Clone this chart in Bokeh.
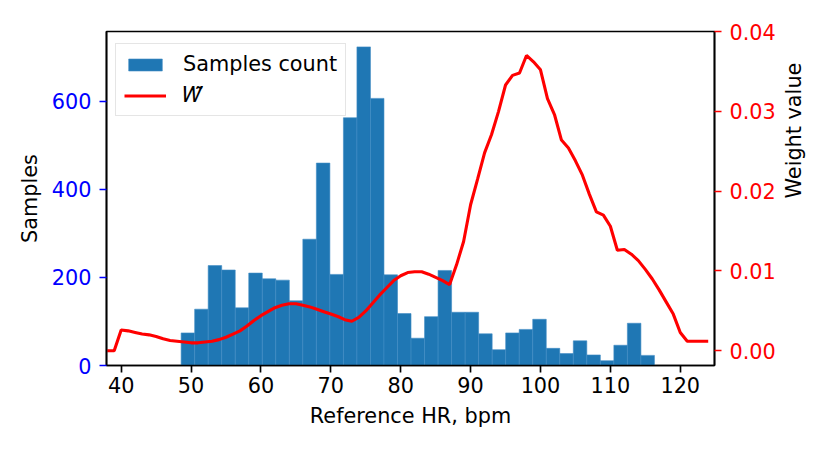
import math
import numpy as np
from bokeh.plotting import figure
from bokeh.models import (Range1d, LinearAxis, FixedTicker, PrintfTickFormatter,
                          Legend, LegendItem, ColumnDataSource)
from bokeh.embed import file_html
from bokeh.resources import INLINE

# ---- data ----
hist_start = 48.58
bin_width = 1.935
counts = [74, 128, 227, 217, 131, 210, 197, 194, 147, 287, 460, 207, 563, 724, 607,
          206, 118, 62, 111, 216, 121, 121, 72, 36, 74, 82, 105, 39, 27, 56, 24, 11,
          46, 96, 23]

hr_grid = list(range(38, 125))
weights = [0.0000, 0.0000, 0.0026, 0.0025, 0.0023, 0.0021, 0.0020, 0.0018, 0.0015, 0.0013,
           0.0012, 0.0011, 0.0010, 0.0010, 0.0011, 0.0012, 0.0014, 0.0017, 0.0021, 0.0025,
           0.0031, 0.0038, 0.0044, 0.0049, 0.0054, 0.0057, 0.0059, 0.0059, 0.0057, 0.0055,
           0.0052, 0.0049, 0.0046, 0.0043, 0.0039, 0.0037, 0.0042, 0.0050, 0.0060, 0.0070,
           0.0079, 0.0088, 0.0094, 0.0098, 0.0099, 0.0099, 0.0096, 0.0092, 0.0088, 0.0083,
           0.0108, 0.0137, 0.0183, 0.0215, 0.0248, 0.0271, 0.0300, 0.0333, 0.0345, 0.0348,
           0.0370, 0.0362, 0.0352, 0.0316, 0.0296, 0.0264, 0.0254, 0.0238, 0.0220, 0.0196,
           0.0174, 0.0170, 0.0156, 0.0126, 0.0127, 0.0121, 0.0113, 0.0102, 0.0090, 0.0076,
           0.0061, 0.0046, 0.0023, 0.0012, 0.0012, 0.0012, 0.0012]

x_ticks = [40, 50, 60, 70, 80, 90, 100, 110, 120]
left_ticks = [0, 200, 400, 600]
right_ticks = [0.00, 0.01, 0.02, 0.03, 0.04]

FONT = "DejaVu Sans"
FS = "20.8px"
LW = 1.67

edges = hist_start + bin_width * np.arange(len(counts) + 1)
bars_src = ColumnDataSource(dict(left=edges[:-1], right=edges[1:],
                                 top=counts, bottom=[0] * len(counts)))
line_src = ColumnDataSource(dict(x=hr_grid, y=weights))

p = figure(width=820, height=445, output_backend="svg", toolbar_location=None,
           x_range=Range1d(37.9, 124.9), y_range=Range1d(0, 759),
           min_border_left=106, min_border_right=103, min_border_top=31, min_border_bottom=80)
p.extra_y_ranges = {"w": Range1d(-0.00184, 0.0400)}

bars = p.quad(left="left", right="right", top="top", bottom="bottom", source=bars_src,
              fill_color="#1f77b4", line_color="#3f8cc4", line_width=0.6)
line = p.line("x", "y", source=line_src, y_range_name="w", line_color="#ff0000", line_width=3.1)

p.xgrid.grid_line_color = None
p.ygrid.grid_line_color = None
p.outline_line_color = "black"
p.outline_line_width = LW
p.background_fill_color = "white"
p.border_fill_color = "white"

def style_axis(ax, color, standoff, label_standoff):
    ax.axis_label_text_font = FONT
    ax.axis_label_text_font_size = FS
    ax.axis_label_text_font_style = "normal"
    ax.axis_label_text_color = "black"
    ax.axis_label_standoff = label_standoff
    ax.major_label_text_font = FONT
    ax.major_label_text_font_size = FS
    ax.major_label_text_color = color
    ax.major_label_standoff = standoff
    ax.major_tick_line_color = color
    ax.major_tick_line_width = LW
    ax.major_tick_out = 7
    ax.major_tick_in = 0
    ax.minor_tick_line_color = None
    ax.axis_line_color = "black"
    ax.axis_line_width = LW

xa = p.xaxis[0]
xa.ticker = FixedTicker(ticks=x_ticks)
xa.axis_label = "Reference HR, bpm"
style_axis(xa, "black", 4, 8)

ya = p.yaxis[0]
ya.ticker = FixedTicker(ticks=left_ticks)
ya.axis_label = "Samples"
style_axis(ya, "#0000ff", 8, 7)

ra = LinearAxis(y_range_name="w", ticker=FixedTicker(ticks=right_ticks),
                formatter=PrintfTickFormatter(format="%.2f"))
ra.axis_label = "Weight value"
style_axis(ra, "#ff0000", 8, 15)
ra.axis_label_orientation = math.pi / 2
p.add_layout(ra, "right")

legend = Legend(items=[LegendItem(label="Samples count", renderers=[bars]),
                       LegendItem(label="\U0001D44A\u0303", renderers=[line])],
                location=(9, 249))
legend.label_text_font = FONT
legend.label_text_font_size = FS
legend.label_text_color = "black"
legend.label_standoff = 17
legend.glyph_width = 42
legend.glyph_height = 15
legend.padding = 8
legend.spacing = 7
legend.border_line_color = "#cccccc"
legend.border_line_width = LW
legend.background_fill_alpha = 0.8
p.add_layout(legend)

open("out.html", "w").write(file_html(p, INLINE))
